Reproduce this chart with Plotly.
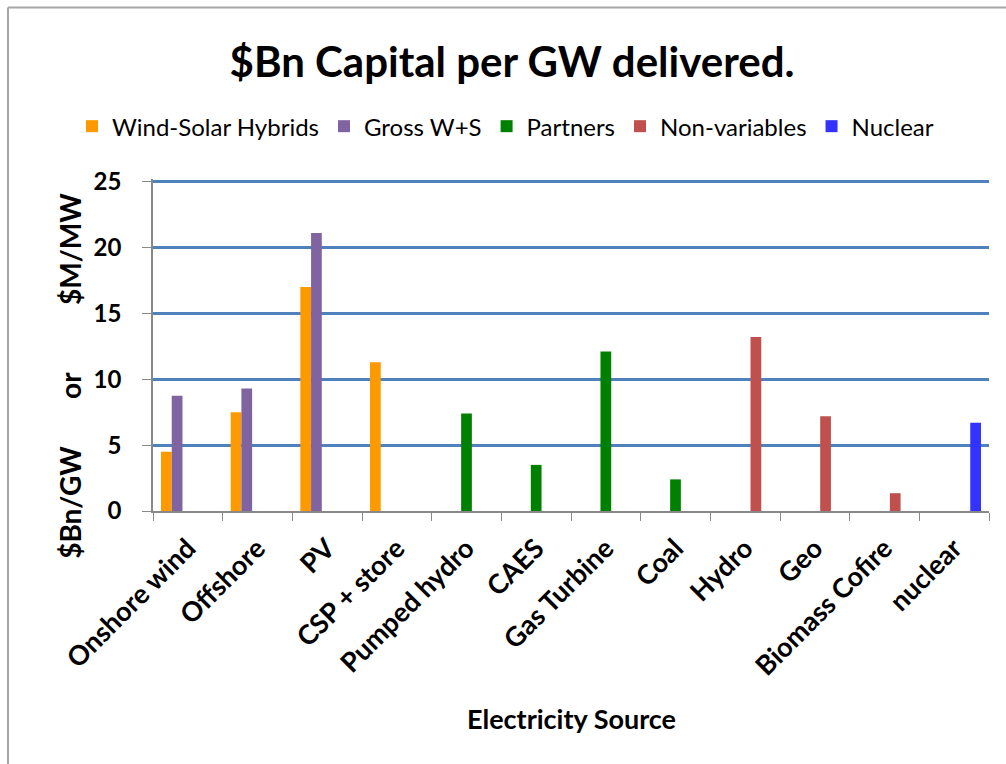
import plotly.graph_objects as go

categories = ["Onshore wind", "Offshore", "PV", "CSP + store", "Pumped hydro", "CAES",
              "Gas Turbine", "Coal", "Hydro", "Geo", "Biomass Cofire", "nuclear"]

wind_solar_hybrids = [4.5, 7.5, 17.0, 11.3, None, None, None, None, None, None, None, None]
gross_ws = [8.75, 9.3, 21.1, None, None, None, None, None, None, None, None, None]
partners = [None, None, None, None, 7.4, 3.5, 12.1, 2.4, None, None, None, None]
non_variables = [None, None, None, None, None, None, None, None, 13.2, 7.2, 1.35, None]
nuclear = [None, None, None, None, None, None, None, None, None, None, None, 6.7]

series_names = ["Wind-Solar Hybrids", "Gross W+S", "Partners", "Non-variables", "Nuclear"]
series_colors = ["#FF9900", "#8064A2", "#008000", "#C0504D", "#3333FF"]
series_values = [wind_solar_hybrids, gross_ws, partners, non_variables, nuclear]

y_ticks = [0, 5, 10, 15, 20, 25]

FONT = "Lato"

fig = go.Figure()
for name, color, vals in zip(series_names, series_colors, series_values):
    fig.add_trace(go.Bar(x=categories, y=vals, name=name, marker=dict(color=color, line=dict(width=0))))

W, H = 1006, 764
YMAX = 25.2
bottom_px = 511
unit = 329 / 25.0
L, R = 153, 17
B = H - bottom_px
T = bottom_px - YMAX * unit
pw = W - L - R
ph = H - T - B

def px_x(px):
    return (px - L) / pw

def px_y(py):
    return (bottom_px - py) / ph

nb = "\u00a0"

fig.update_layout(
    width=W, height=H,
    margin=dict(l=L, r=R, t=T, b=B, autoexpand=False),
    paper_bgcolor="white", plot_bgcolor="white",
    barmode="group", bargap=0.23, bargroupgap=0,
    font=dict(family=FONT, color="black"),
    title=dict(text="$Bn Capital per GW delivered.", x=512 / W, xref="container", xanchor="center",
               y=1 - 62 / H, yref="container", yanchor="middle",
               font=dict(family=FONT, size=42, weight="bold", color="black")),
    legend=dict(orientation="h", x=px_x(72), xanchor="left", y=px_y(127), yanchor="middle",
                font=dict(family=FONT, size=24, color="black"), bgcolor="rgba(0,0,0,0)",
                traceorder="normal"),
    showlegend=True,
)

fig.update_xaxes(
    type="category", showline=True, linecolor="#888888", linewidth=1.5,
    ticks="outside", tickson="boundaries", ticklen=8, tickcolor="#888888",
    tickangle=-45, ticklabelstandoff=9,
    tickfont=dict(family=FONT, size=27, weight="bold", color="black"),
    showgrid=False, zeroline=False,
)
fig.update_yaxes(
    range=[0, YMAX], tickvals=y_ticks, showline=True, linecolor="#888888", linewidth=1.5,
    ticks="outside", ticklen=9, tickcolor="#888888", ticklabelstandoff=16,
    tickfont=dict(family=FONT, size=24, weight="bold", color="black"),
    showgrid=True, gridcolor="#4F81BD", gridwidth=3, zeroline=False,
)

fig.add_annotation(text="$Bn/GW" + nb * 7 + "or" + nb * 10 + "$M/MW", textangle=-90,
                   x=px_x(70), y=px_y(376), xref="paper", yref="paper", showarrow=False,
                   xanchor="center", yanchor="middle",
                   font=dict(family=FONT, size=28, weight="bold", color="black"))
fig.add_annotation(text="Electricity Source", x=px_x(571), y=px_y(718), xref="paper", yref="paper",
                   showarrow=False, xanchor="center", yanchor="middle",
                   font=dict(family=FONT, size=27, weight="bold", color="black"))

border = dict(color="#A6A6A6", width=2)
fig.add_shape(type="line", xref="paper", yref="paper",
              x0=px_x(8), x1=px_x(8), y0=px_y(770), y1=px_y(8), line=border, layer="below")
fig.add_shape(type="line", xref="paper", yref="paper",
              x0=px_x(8), x1=px_x(1010), y0=px_y(8), y1=px_y(8), line=border, layer="below")

fig.write_html("out.html")
